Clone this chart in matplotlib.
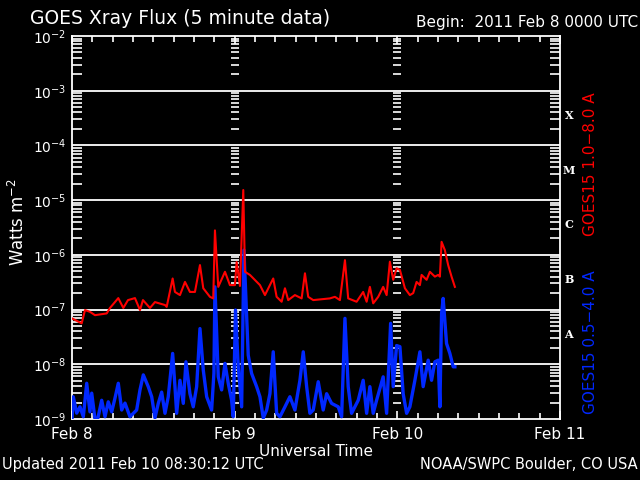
import numpy as np
import matplotlib
matplotlib.use('Agg')
import matplotlib.pyplot as plt
from matplotlib.ticker import LogLocator, NullFormatter, FixedLocator, MultipleLocator

# hours since 2011 Feb 8 00:00 UTC, flux in W m^-2
red_hours = [0.0, 1.43, 1.92, 2.65, 3.39, 5.12, 5.60, 6.83, 7.57, 8.26, 9.29, 10.03,
             10.47, 11.50, 12.24, 13.72, 13.97, 14.85, 15.19, 15.93, 16.67, 17.40,
             18.14, 18.88, 19.37, 20.35, 20.84, 21.09, 21.58, 22.57, 23.30, 24.04,
             24.29, 24.78, 25.27, 25.52, 26.25, 27.73, 28.47, 29.20, 29.69, 30.19,
             30.93, 31.42, 31.90, 32.89, 33.88, 34.37, 34.85, 35.59, 38.05, 38.79,
             39.53, 40.27, 40.75, 41.99, 42.96, 43.47, 43.95, 44.44, 45.18, 45.91,
             46.42, 46.90, 47.39, 47.89, 48.38, 49.12, 49.85, 50.34, 50.84, 51.33,
             51.58, 52.32, 52.80, 53.54, 54.03, 54.28, 54.53, 55.01, 55.50, 56.00, 56.49]
red_flux = [6.9e-8, 5.6e-8, 9.8e-8, 9.1e-8, 7.9e-8, 8.5e-8, 1.07e-7, 1.62e-7, 1.07e-7,
            1.49e-7, 1.62e-7, 9.8e-8, 1.49e-7, 1.07e-7, 1.37e-7, 1.21e-7, 1.12e-7,
            3.7e-7, 2.1e-7, 1.84e-7, 3.2e-7, 2.1e-7, 2.1e-7, 6.5e-7, 2.45e-7, 1.71e-7,
            1.60e-7, 2.8e-6, 2.6e-7, 4.9e-7, 2.8e-7, 2.8e-7, 7.4e-7, 2.7e-7, 1.53e-5,
            4.9e-7, 4.3e-7, 2.8e-7, 1.84e-7, 2.8e-7, 3.7e-7, 1.71e-7, 1.39e-7, 2.45e-7,
            1.49e-7, 1.84e-7, 1.60e-7, 4.6e-7, 1.71e-7, 1.49e-7, 1.60e-7, 1.71e-7,
            1.49e-7, 8.0e-7, 1.60e-7, 1.39e-7, 2.1e-7, 1.39e-7, 2.6e-7, 1.30e-7, 1.71e-7,
            2.6e-7, 1.84e-7, 7.5e-7, 3.5e-7, 5.7e-7, 5.3e-7, 2.45e-7, 1.84e-7, 2.0e-7,
            3.2e-7, 2.8e-7, 4.3e-7, 3.5e-7, 4.9e-7, 4.0e-7, 4.3e-7, 4.0e-7, 1.73e-6,
            1.22e-6, 6.5e-7, 4.0e-7, 2.6e-7]

blue_hours = [0.0, 0.19, 0.69, 1.18, 1.67, 2.17, 2.65, 2.91, 3.39, 3.83, 4.38, 4.87,
              5.35, 5.86, 6.34, 6.83, 7.33, 7.82, 8.55, 9.54, 10.03, 10.52, 11.25,
              11.76, 12.24, 12.73, 13.23, 13.72, 14.20, 14.85, 15.19, 15.44, 15.93,
              16.42, 16.81, 17.40, 17.89, 18.39, 18.88, 19.37, 19.87, 20.60, 20.94,
              21.09, 21.58, 22.08, 22.57, 23.05, 23.55, 23.79, 24.12, 24.53, 25.03,
              25.37, 26.00, 26.50, 27.24, 27.73, 28.22, 28.72, 29.20, 29.69, 30.19,
              30.68, 31.42, 32.15, 32.89, 33.63, 34.12, 34.62, 35.10, 35.59, 36.33,
              37.06, 37.57, 38.30, 39.28, 39.78, 40.27, 40.75, 41.25, 42.23, 42.96,
              43.47, 43.95, 44.44, 44.94, 45.91, 46.42, 47.01, 47.39, 47.89, 48.38,
              48.86, 49.37, 49.85, 50.59, 51.33, 51.81, 52.55, 53.05, 53.54, 54.03,
              54.28, 54.53, 54.76, 55.26, 55.75, 56.24, 56.49]
blue_flux = [1.0e-9, 2.55e-9, 1.28e-9, 1.67e-9, 1.10e-9, 4.5e-9, 1.35e-9, 2.97e-9,
             1.0e-9, 1.05e-9, 2.2e-9, 1.10e-9, 2.06e-9, 1.35e-9, 2.4e-9, 4.5e-9,
             1.46e-9, 1.95e-9, 1.10e-9, 1.46e-9, 3.4e-9, 6.4e-9, 3.9e-9, 2.55e-9,
             1.05e-9, 1.93e-9, 3.1e-9, 1.27e-9, 2.55e-9, 1.58e-8, 3.9e-9, 1.27e-9,
             5.1e-9, 1.93e-9, 1.11e-8, 2.9e-9, 1.67e-9, 3.9e-9, 4.5e-8, 7.8e-9,
             2.55e-9, 1.46e-9, 6.9e-9, 2.6e-7, 5.9e-9, 3.4e-9, 1.04e-8, 4.5e-9,
             2.2e-9, 1.10e-9, 9.8e-8, 9.0e-9, 1.67e-9, 1.22e-6, 1.47e-8, 6.8e-9,
             3.9e-9, 2.55e-9, 1.04e-9, 1.46e-9, 2.9e-9, 1.69e-8, 1.27e-9, 1.10e-9,
             1.67e-9, 2.55e-9, 1.46e-9, 5.1e-9, 1.69e-8, 3.9e-9, 1.27e-9, 1.46e-9,
             4.8e-9, 1.46e-9, 2.9e-9, 1.93e-9, 1.67e-9, 1.10e-9, 6.9e-8, 3.9e-9,
             1.27e-9, 2.2e-9, 5.1e-9, 1.27e-9, 3.9e-9, 1.27e-9, 2.2e-9, 5.9e-9,
             1.27e-9, 5.6e-8, 3.9e-9, 2.2e-8, 2.1e-8, 2.9e-9, 1.27e-9, 1.67e-9,
             5.1e-9, 1.69e-8, 3.9e-9, 1.19e-8, 5.1e-9, 1.11e-8, 1.19e-8, 1.67e-9,
             8.5e-8, 1.60e-7, 2.4e-8, 1.58e-8, 9.0e-9, 9.0e-9]

day_hours = [0, 24, 48, 72]
day_labels = ['Feb 8', 'Feb 9', 'Feb 10', 'Feb 11']
class_names = ['X', 'M', 'C', 'B', 'A']
class_levels = [10**-3.45, 10**-4.45, 10**-5.45, 10**-6.45, 10**-7.45]

fg = 'white'
red = '#ff0000'
blue = '#0028ff'

fig = plt.figure(figsize=(6.4, 4.8), dpi=100, facecolor='black')
ax = fig.add_axes([72/640, 1 - 419/480, 488/640, 383/480], facecolor='black')

ax.set_yscale('log')
ax.set_ylim(1e-9, 1e-2)
ax.set_xlim(0, 72)

# decade grid lines
for k in range(-8, -2):
    ax.axhline(10.0**k, color=fg, lw=1.3, zorder=1)

# log minor ticks along the day boundaries
minor_vals = [m * 10.0**k for k in range(-9, -2) for m in range(2, 10)]
for d in day_hours[1:3]:
    ax.plot(np.full(len(minor_vals), d), minor_vals, ls='none', marker='_',
            ms=6, mew=1.2, color=fg, zorder=2)

ax.plot(blue_hours, blue_flux, color=blue, lw=2.4, zorder=3)
ax.plot(red_hours, red_flux, color=red, lw=1.5, zorder=4)

for s in ax.spines.values():
    s.set_color(fg)
    s.set_linewidth(1.3)

ax.xaxis.set_major_locator(FixedLocator(day_hours))
ax.set_xticklabels(day_labels)
ax.xaxis.set_minor_locator(MultipleLocator(3))
ax.yaxis.set_major_locator(LogLocator(base=10, numticks=10))
ax.yaxis.set_minor_locator(LogLocator(base=10, subs=np.arange(2, 10), numticks=20))
ax.yaxis.set_minor_formatter(NullFormatter())
ax.tick_params(which='both', direction='in', colors=fg, top=True, right=True,
               width=1.2)
ax.tick_params(axis='x', which='major', length=6, pad=6, labelsize=11)
ax.tick_params(axis='x', which='minor', length=4)
ax.tick_params(axis='y', which='major', length=0, pad=4, labelsize=10)
ax.tick_params(axis='y', which='minor', length=7)

ax.set_xlabel('Universal Time', color=fg, fontsize=11, labelpad=1)
fig.text(18/640, 1 - 222/480, 'Watts m$^{-2}$', color=fg, rotation=90,
         fontsize=12, ha='center', va='center')

for name, lev in zip(class_names, class_levels):
    ax.text(1.018, lev, name, transform=ax.get_yaxis_transform(), color=fg,
            fontsize=8, fontweight='bold', family='DejaVu Serif',
            ha='center', va='center')

fig.text(0.922, 1 - 164/480, 'GOES15 1.0\u22128.0 A', color=red, rotation=90,
         fontsize=11, ha='center', va='center')
fig.text(0.922, 1 - 342/480, 'GOES15 0.5\u22124.0 A', color=blue, rotation=90,
         fontsize=11, ha='center', va='center')

fig.text(30/640, 1 - 18/480, 'GOES Xray Flux (5 minute data)', color=fg,
         fontsize=13.5, ha='left', va='center')
fig.text(638/640, 1 - 22/480, 'Begin:  2011 Feb 8 0000 UTC', color=fg,
         fontsize=11, ha='right', va='center')
fig.text(2/640, 8/480, 'Updated 2011 Feb 10 08:30:12 UTC', color=fg,
         fontsize=10.5, ha='left', va='bottom')
fig.text(638/640, 8/480, 'NOAA/SWPC Boulder, CO USA', color=fg,
         fontsize=10.5, ha='right', va='bottom')

fig.savefig('out.png', dpi=100, facecolor='black')
